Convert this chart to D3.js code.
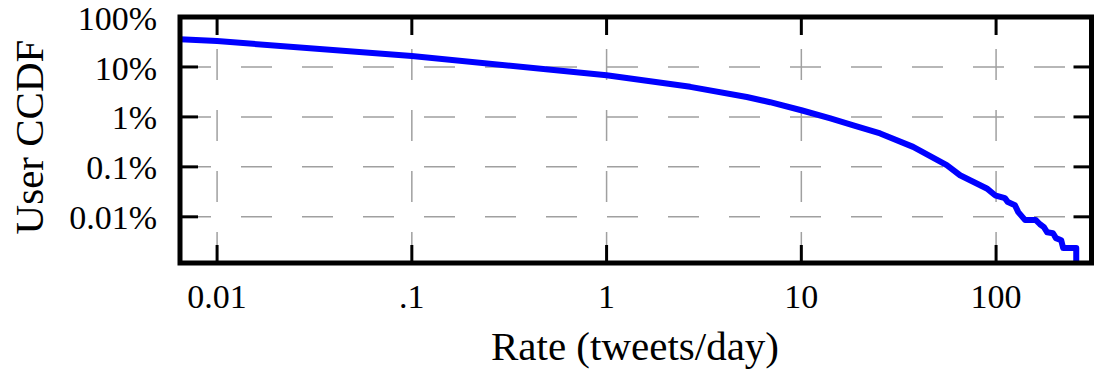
<!DOCTYPE html>
<html>
<head>
<meta charset="utf-8">
<script src="https://cdn.jsdelivr.net/npm/d3@7"></script>
<style>
    body { margin: 0; background: #fff; }
    text { fill: #000; }
    .text_tick { font-size: 34px; }
    .text_label { font-size: 41px; }
</style>
</head>
<body>
<script>
    // rate in tweets/day, ccdf in percent of users
    var rates = [0.00645, 0.01, 0.1, 1, 2.69, 5.25, 6.91, 10, 14.1, 18.5, 25.4, 37.5, 55.8, 65.3, 89.6,
        98.8, 111, 115, 125, 130, 141, 160, 168, 176, 183, 196, 203, 216, 221, 258, 258];
    var ccdf = [35.8, 33, 16.5, 6.8, 4.0, 2.5, 1.97, 1.36, 0.93, 0.68, 0.466, 0.251, 0.108, 0.068, 0.037,
        0.027, 0.0237, 0.0197, 0.0171, 0.0124, 0.0086, 0.0086, 0.0071, 0.0062, 0.0049, 0.0047, 0.00375, 0.0034, 0.00237, 0.00237, 0.00119];

    var xTicks = [0.01, 0.1, 1, 10, 100];
    var xTickLabels = ["0.01", ".1", "1", "10", "100"];
    var yTicks = [100, 10, 1, 0.1, 0.01];
    var yTickLabels = ["100%", "10%", "1%", "0.1%", "0.01%"];

    const CANVAS = {WIDTH: 1094, HEIGHT: 373};
    const PLOT = {LEFT: 180, RIGHT: 1091.5, TOP: 17, BOTTOM: 263};
    const TICK = 18;

    var x = d3.scaleLog()
        .domain([0.00645, 309])
        .range([PLOT.LEFT, PLOT.RIGHT]);

    var y = d3.scaleLog()
        .domain([0.00119, 100])
        .range([PLOT.BOTTOM, PLOT.TOP]);

    var canvas = d3.select("body")
        .append("svg")
        .attr("width", CANVAS.WIDTH)
        .attr("height", CANVAS.HEIGHT)
        .style("font-family", "'Liberation Serif'");

    // grid
    var grid = canvas.append("g")
        .attr("stroke", "#a0a0a0")
        .attr("stroke-width", 1.5)
        .attr("stroke-dasharray", "31,30");

    grid.selectAll("line.v")
        .data(xTicks)
        .enter()
        .append("line")
        .attr("class", "v")
        .attr("x1", function(d) { return x(d); })
        .attr("x2", function(d) { return x(d); })
        .attr("y1", PLOT.BOTTOM)
        .attr("y2", PLOT.TOP);

    grid.selectAll("line.h")
        .data(yTicks.slice(1))
        .enter()
        .append("line")
        .attr("class", "h")
        .attr("x1", PLOT.LEFT)
        .attr("x2", PLOT.RIGHT)
        .attr("y1", function(d) { return y(d); })
        .attr("y2", function(d) { return y(d); });

    // curve
    var line = d3.line()
        .x(function(d) { return x(d[0]); })
        .y(function(d) { return y(d[1]); });

    canvas.append("path")
        .datum(d3.zip(rates, ccdf))
        .attr("d", line)
        .attr("fill", "none")
        .attr("stroke", "#0000ff")
        .attr("stroke-width", 6)
        .attr("stroke-linejoin", "round");

    // ticks, inward on all four sides
    var ticks = canvas.append("g")
        .attr("stroke", "#000")
        .attr("stroke-width", 3);

    xTicks.forEach(function(d) {
        ticks.append("line")
            .attr("x1", x(d)).attr("x2", x(d))
            .attr("y1", PLOT.BOTTOM).attr("y2", PLOT.BOTTOM - TICK);
        ticks.append("line")
            .attr("x1", x(d)).attr("x2", x(d))
            .attr("y1", PLOT.TOP).attr("y2", PLOT.TOP + TICK);
    });

    yTicks.forEach(function(d) {
        ticks.append("line")
            .attr("x1", PLOT.LEFT).attr("x2", PLOT.LEFT + TICK)
            .attr("y1", y(d)).attr("y2", y(d));
        ticks.append("line")
            .attr("x1", PLOT.RIGHT).attr("x2", PLOT.RIGHT - TICK)
            .attr("y1", y(d)).attr("y2", y(d));
    });

    // frame
    canvas.append("rect")
        .attr("x", PLOT.LEFT)
        .attr("y", PLOT.TOP)
        .attr("width", PLOT.RIGHT - PLOT.LEFT)
        .attr("height", PLOT.BOTTOM - PLOT.TOP)
        .attr("fill", "none")
        .attr("stroke", "#000")
        .attr("stroke-width", 5);

    // tick labels
    canvas.append("g")
        .selectAll("text")
        .data(xTicks)
        .enter()
        .append("text")
        .attr("class", "text_tick")
        .attr("x", function(d) { return x(d); })
        .attr("y", 308)
        .attr("text-anchor", "middle")
        .text(function(d, i) { return xTickLabels[i]; });

    canvas.append("g")
        .selectAll("text")
        .data(yTicks)
        .enter()
        .append("text")
        .attr("class", "text_tick")
        .attr("x", 157)
        .attr("y", function(d) { return y(d); })
        .attr("dy", "0.37em")
        .attr("text-anchor", "end")
        .text(function(d, i) { return yTickLabels[i]; });

    // axis titles
    canvas.append("text")
        .attr("class", "text_label")
        .attr("x", 635)
        .attr("y", 360)
        .attr("text-anchor", "middle")
        .text("Rate (tweets/day)");

    canvas.append("text")
        .attr("class", "text_label")
        .attr("transform", "translate(43,137) rotate(-90)")
        .attr("text-anchor", "middle")
        .text("User CCDF");
</script>
</body>
</html>
